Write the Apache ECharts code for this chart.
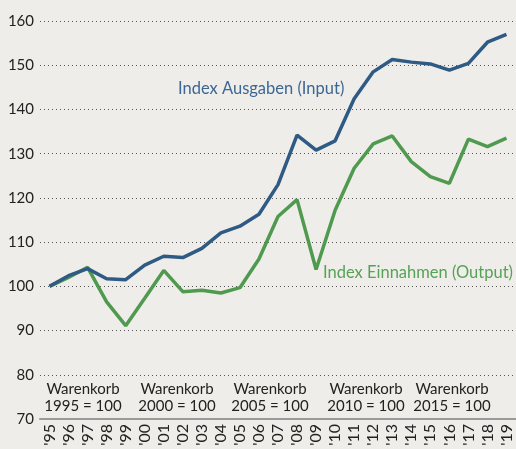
<!DOCTYPE html>
<html>
<head>
<meta charset="utf-8">
<script src="https://cdn.jsdelivr.net/npm/echarts@6/dist/echarts.min.js"></script>
<style>
  html, body { margin: 0; padding: 0; background: #efede9; }
  #chart { width: 516px; height: 449px; }
</style>
</head>
<body>
<div id="chart"></div>
<script>
// Jahre (Achsenbeschriftung)
var years = ["'95", "'96", "'97", "'98", "'99", "'00", "'01", "'02", "'03", "'04", "'05", "'06", "'07",
             "'08", "'09", "'10", "'11", "'12", "'13", "'14", "'15", "'16", "'17", "'18", "'19"];
// Index Ausgaben (Input)
var ausgaben = [100, 102.4, 104.0, 101.7, 101.5, 104.8, 106.8, 106.5, 108.6, 112.1, 113.6, 116.3, 123.0,
                134.2, 130.8, 132.9, 142.4, 148.5, 151.3, 150.7, 150.3, 148.9, 150.4, 155.2, 157.0];
// Index Einnahmen (Output)
var einnahmen = [100, 102.0, 104.3, 96.5, 91.1, 97.3, 103.6, 98.8, 99.1, 98.5, 99.7, 106.2, 115.8,
                 119.6, 103.8, 117.2, 126.7, 132.2, 134.0, 128.2, 124.8, 123.3, 133.3, 131.6, 133.5];
// Warenkorb-Hinweise
var warenkorb = ['Warenkorb\n1995 = 100', 'Warenkorb\n2000 = 100', 'Warenkorb\n2005 = 100',
                 'Warenkorb\n2010 = 100', 'Warenkorb\n2015 = 100'];
var warenkorbX = [83, 177, 270, 366, 452];

var font = 'Lato, "Noto Sans", sans-serif';
var blue = '#2e5a84';
var green = '#4f9a4f';

var chart = echarts.init(document.getElementById('chart'));

var graphics = [];
for (var i = 0; i < warenkorb.length; i++) {
    graphics.push({
        type: 'text',
        x: warenkorbX[i],
        y: 381,
        style: {
            text: warenkorb[i],
            font: '15px ' + font,
            fill: '#222',
            align: 'center',
            lineHeight: 17
        }
    });
}
graphics.push({
    type: 'text', x: 178, y: 80,
    style: { text: 'Index Ausgaben (Input)', font: '16.5px ' + font, fill: '#3b6795' }
});
graphics.push({
    type: 'text', x: 323, y: 264,
    style: { text: 'Index Einnahmen (Output)', font: '16.5px ' + font, fill: '#57a257' }
});

var option = {
    backgroundColor: '#efede9',
    animation: false,
    grid: { left: 40, right: 0, top: 21, bottom: 30 },
    xAxis: {
        type: 'category',
        data: years,
        boundaryGap: true,
        axisLine: { lineStyle: { color: '#9a9a9a', width: 2 } },
        axisTick: { show: false },
        axisLabel: {
            rotate: 90,
            interval: 0,
            margin: 5,
            fontSize: 16,
            color: '#222',
            fontFamily: font
        }
    },
    yAxis: {
        type: 'value',
        min: 70,
        max: 160,
        interval: 10,
        axisLine: { show: false },
        axisTick: { show: false },
        axisLabel: { fontSize: 15, color: '#222', margin: 6, fontFamily: font },
        splitLine: { lineStyle: { type: [1, 3], color: '#555', width: 1 } }
    },
    series: [
        {
            name: 'Index Einnahmen (Output)',
            type: 'line',
            data: einnahmen,
            symbol: 'none',
            lineStyle: { color: green, width: 3.5 }
        },
        {
            name: 'Index Ausgaben (Input)',
            type: 'line',
            data: ausgaben,
            symbol: 'none',
            lineStyle: { color: blue, width: 3.5 }
        }
    ],
    graphic: graphics
};
chart.setOption(option);
</script>
</body>
</html>
